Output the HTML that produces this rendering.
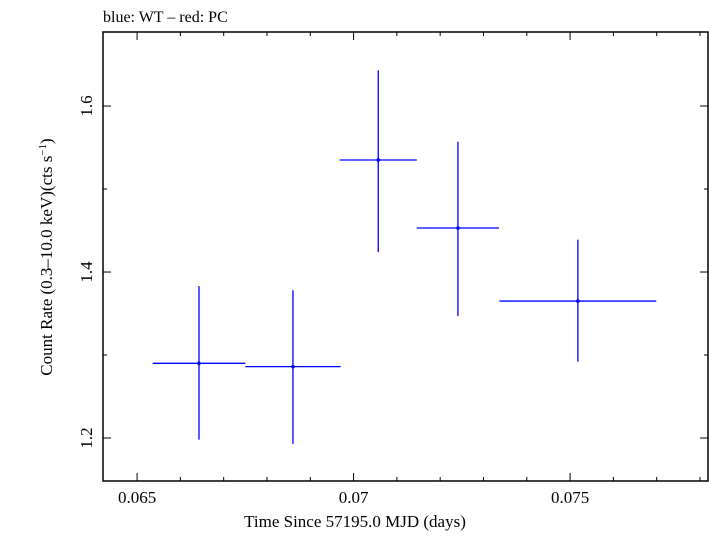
<!DOCTYPE html>
<html><head><meta charset="utf-8"><style>
html,body{margin:0;padding:0;background:#fff;}
svg text{font-family:"Liberation Serif",serif;fill:#000;}
</style></head><body>
<svg width="709" height="532" xmlns="http://www.w3.org/2000/svg">
<rect width="709" height="532" fill="#fff"/>
<text x="103" y="22" font-size="16">blue: WT – red: PC</text>
<g id="axes"></g>
<g id="marks"></g>
<text x="355" y="527" font-size="17" text-anchor="middle">Time Since 57195.0 MJD (days)</text>
<text transform="translate(52,257) rotate(-90)" font-size="17" text-anchor="middle">Count Rate (0.3–10.0 keV)(cts s<tspan dy="-6" font-size="11">−1</tspan><tspan dy="6">)</tspan></text>
</svg>
<script>
const times=[0.06643,0.0686,0.07057,0.07241,0.07518];
const timeErr=[0.00107,0.0011,0.00089,0.00095,0.00181];
const rates=[1.290,1.286,1.535,1.453,1.365];
const rateErrHi=[0.093,0.092,0.108,0.104,0.074];
const rateErrLo=[0.092,0.093,0.111,0.106,0.073];
const xTicks=[0.065,0.07,0.075];
const xTickLabels=["0.065","0.07","0.075"];
const yTicks=[1.2,1.4,1.6];
const yTickLabels=["1.2","1.4","1.6"];
const L=103,R=708,T=32,B=481;
const xMin=0.064213,xMax=0.078185,yMin=1.1482,yMax=1.6892;
function xs(v){return L+(v-xMin)/(xMax-xMin)*(R-L);}
function ys(v){return B-(v-yMin)/(yMax-yMin)*(B-T);}
const NS="http://www.w3.org/2000/svg";
function mk(tag,attrs,parent){const e=document.createElementNS(NS,tag);for(const k in attrs)e.setAttribute(k,attrs[k]);parent.appendChild(e);return e;}
const ax=document.getElementById('axes');
let f=mk('rect',{x:L,y:T,width:R-L,height:B-T,fill:'none',stroke:'#000','stroke-width':1.5},ax);


for(let i=65;i<=78;i++){const v=i/1000;const x=xs(v);const major=(i%5===0);const len=major?8:4;
 let t=mk('line',{x1:x,y1:B,x2:x,y2:B-len,stroke:'#000','stroke-width':1},ax);
 
 
 let t2=mk('line',{x1:x,y1:T,x2:x,y2:T+len,stroke:'#000','stroke-width':1},ax);
 
 }
xTicks.forEach((v,i)=>{let t=mk('text',{x:xs(v),y:B+22,'font-size':17,'text-anchor':'middle'},ax);t.textContent=xTickLabels[i];
 
 });
for(let i=12;i<=16;i++){const v=i/10;const y=ys(v);const major=(i%2===0);const len=major?8:4;
 let t=mk('line',{x1:L,y1:y,x2:L+len,y2:y,stroke:'#000','stroke-width':1},ax);
 
 
 let t2=mk('line',{x1:R,y1:y,x2:R-len,y2:y,stroke:'#000','stroke-width':1},ax);
 
 }
yTicks.forEach((v,i)=>{let t=mk('text',{transform:`translate(92,${ys(v)}) rotate(-90)`,'font-size':17,'text-anchor':'middle'},ax);t.textContent=yTickLabels[i];
 
 });
const mg=document.getElementById('marks');
times.forEach((t,i)=>{
 const g=mk('g',{},mg);
 
 
 mk('line',{x1:xs(t-timeErr[i]),x2:xs(t+timeErr[i]),y1:ys(rates[i]),y2:ys(rates[i]),stroke:'#0000ff','stroke-width':1.3},g);
 mk('line',{x1:xs(t),x2:xs(t),y1:ys(rates[i]+rateErrHi[i]),y2:ys(rates[i]-rateErrLo[i]),stroke:'#0000ff','stroke-width':1.3},g);
 mk('circle',{cx:xs(t),cy:ys(rates[i]),r:1.8,fill:'#0000ff'},g);
});
</script>
</body></html>
